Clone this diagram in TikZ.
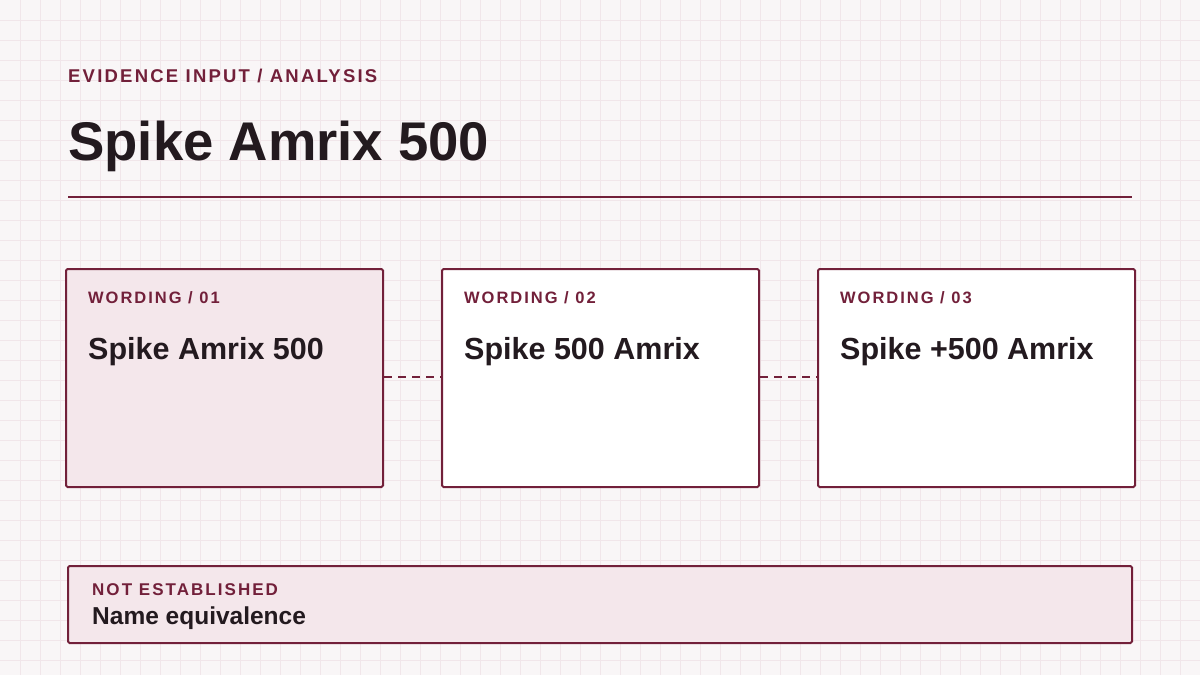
\documentclass[tikz,border=0pt]{standalone}
\usepackage{fontspec}
\setmainfont{Liberation Sans}
\begin{document}
\definecolor{bg}{HTML}{F9F6F7}
\definecolor{gridc}{HTML}{F1E6EA}
\definecolor{wine}{HTML}{72203A}
\definecolor{ink}{HTML}{231A1F}
\definecolor{pinkfill}{HTML}{F4E7EB}
\begin{tikzpicture}[x=1pt,y=-1pt,
  card/.style={draw=wine,line width=2pt,rounded corners=1.5pt},
  kicker/.style={anchor=base west,inner sep=0,text=wine,font=\bfseries\addfontfeature{LetterSpace=12}\fontsize{16.5}{16.5}\selectfont},
  body/.style={anchor=base west,inner sep=0,text=ink,font=\bfseries\fontsize{30.5}{30.5}\selectfont},
  conn/.style={draw=wine,line width=2pt,dash pattern=on 8pt off 6pt}]
\fill[bg] (0,0) rectangle (1200,675);
\useasboundingbox (0,0) rectangle (1200,675);
\foreach \i in {20,40,...,1180} \draw[gridc,line width=0.8pt] (\i,0) -- (\i,675);
\foreach \i in {20,40,...,660} \draw[gridc,line width=0.8pt] (0,\i) -- (1200,\i);
\node[kicker,font=\bfseries\addfontfeature{LetterSpace=12}\fontsize{18.5}{18.5}\selectfont] (top) at (68,82) {EVIDENCE INPUT / ANALYSIS};
\node[anchor=base west,inner sep=0,text=ink,font=\bfseries\fontsize{54.5}{54.5}\selectfont] (title) at (68,160) {Spike Amrix 500};
\coordinate (r1) at (68,197); \coordinate (r2) at (1132,197);
\draw[wine,line width=2pt] (r1) -- (r2);
\node[card,fill=pinkfill,minimum width=317pt,minimum height=218pt,anchor=north west] (b1) at (65,268) {};
\node[card,fill=white,minimum width=317pt,minimum height=218pt,anchor=north west] (b2) at (441,268) {};
\node[card,fill=white,minimum width=317pt,minimum height=218pt,anchor=north west] (b3) at (817,268) {};
\draw[conn] (b1.east |- 0,377) -- (b2.west |- 0,377);
\draw[conn] (b2.east |- 0,377) -- (b3.west |- 0,377);
\node[kicker] (k1) at (88,303) {WORDING / 01};
\node[kicker] (k2) at (464,303) {WORDING / 02};
\node[kicker] (k3) at (840,303) {WORDING / 03};
\node[body] (t1) at (88,359) {Spike Amrix 500};
\node[body] (t2) at (464,359) {Spike 500 Amrix};
\node[body] (t3) at (840,359) {Spike +500 Amrix};
\node[card,fill=pinkfill,minimum width=1064pt,minimum height=77pt,anchor=north west] (bot) at (67,565) {};
\node[kicker,font=\bfseries\addfontfeature{LetterSpace=12}\fontsize{17}{17}\selectfont] (nk) at (92,595) {NOT ESTABLISHED};
\node[anchor=base west,inner sep=0,text=ink,font=\bfseries\fontsize{24.5}{24.5}\selectfont] (nt) at (92,624) {Name equivalence};
\end{tikzpicture}
\end{document}
